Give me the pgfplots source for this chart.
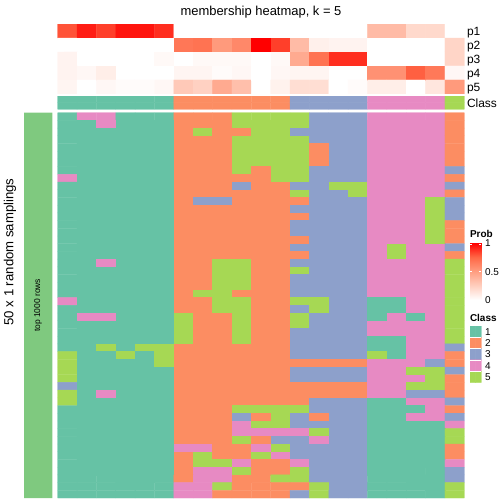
\documentclass[border=0pt]{standalone}
\usepackage{pgfplots}
\pgfplotsset{compat=1.18}
\usepackage{fontspec}
\setmainfont{Liberation Sans}
\definecolor{accentgreen}{RGB}{127,201,127}
\pgfplotsset{
  colormap={set2}{rgb255=(102,194,165) rgb255=(252,141,98) rgb255=(141,160,203) rgb255=(231,138,195) rgb255=(166,216,84)},
  colormap={prob}{rgb255=(255,255,255) rgb255=(255,207,191) rgb255=(255,158,129) rgb255=(255,104,70) rgb255=(255,0,0)},
  hm/.style={scale only axis, hide axis, anchor=north west, enlargelimits=false},
  hmtiles/.style={matrix plot*, shader=faceted, faceted color=mapped color, line width=0.35pt, point meta=explicit},
}
\begin{document}
\begin{tikzpicture}[every node/.style={inner sep=0pt, outer sep=0pt}]
\useasboundingbox (0,0) rectangle (504bp,-504bp);

% title
\node[anchor=base] at (261bp,-15.5bp) {\fontsize{13}{15}\selectfont membership heatmap, k = 5};

% top annotation p1..p5
\begin{axis}[hm, at={(57.7bp,-24bp)}, width=406.6bp, height=70bp,
  xmin=0.5, xmax=21.5, ymin=0.5, ymax=5.5, y dir=reverse,
  colormap name=prob, point meta min=0, point meta max=1]
\addplot[hmtiles, mesh/cols=21] table[row sep=\\, meta=c,
  x expr={mod(\coordindex,21)+1}, y expr={floor((\coordindex+0.5)/21)+1}] {
c\\
0.80\\0.93\\0.85\\0.95\\0.95\\0.89\\0\\0\\0\\0\\0\\0\\0\\0\\0\\0\\0.35\\0.35\\0.20\\0.20\\0\\
0\\0\\0\\0\\0\\0\\0.68\\0.70\\0.52\\0.60\\1.00\\0.85\\0.35\\0.08\\0.06\\0.06\\0\\0\\0\\0\\0.22\\
0.06\\0\\0\\0\\0\\0.03\\0\\0.03\\0.03\\0.03\\0\\0.03\\0.44\\0.70\\0.89\\0.89\\0\\0\\0\\0\\0.22\\
0.06\\0.04\\0.09\\0\\0\\0\\0.05\\0.05\\0.02\\0.04\\0\\0.04\\0.05\\0.05\\0\\0\\0.56\\0.56\\0.77\\0.67\\0.04\\
0.05\\0\\0.04\\0.02\\0.02\\0.04\\0.28\\0.24\\0.44\\0.33\\0\\0.07\\0.17\\0.17\\0\\0.02\\0.09\\0.09\\0\\0.13\\0.52\\
};
\end{axis}

% top annotation Class
\begin{axis}[hm, at={(57.7bp,-96bp)}, width=406.6bp, height=13.3bp,
  xmin=0.5, xmax=21.5, ymin=0.5, ymax=2.5, y dir=reverse,
  colormap name=set2, point meta min=1, point meta max=5]
\addplot[hmtiles, mesh/cols=21] table[row sep=\\, meta=c,
  x expr={mod(\coordindex,21)+1}, y expr={floor((\coordindex+0.5)/21)+1}] {
c\\
1\\1\\1\\1\\1\\1\\2\\2\\2\\2\\2\\2\\3\\3\\3\\3\\4\\4\\4\\4\\5\\
1\\1\\1\\1\\1\\1\\2\\2\\2\\2\\2\\2\\3\\3\\3\\3\\4\\4\\4\\4\\5\\
};
\end{axis}

% annotation labels
\node[anchor=base west] at (467bp,-35.4bp) {\fontsize{12}{14}\selectfont p1};
\node[anchor=base west] at (467bp,-49.4bp) {\fontsize{12}{14}\selectfont p2};
\node[anchor=base west] at (467bp,-63.4bp) {\fontsize{12}{14}\selectfont p3};
\node[anchor=base west] at (467bp,-77.4bp) {\fontsize{12}{14}\selectfont p4};
\node[anchor=base west] at (467bp,-91.4bp) {\fontsize{12}{14}\selectfont p5};
\node[anchor=base west] at (467bp,-107bp) {\fontsize{12}{14}\selectfont Class};

% main body: 50 samplings x 21 samples
\begin{axis}[hm, at={(57.7bp,-112.7bp)}, width=406.6bp, height=385.3bp,
  xmin=0.5, xmax=21.5, ymin=0.5, ymax=50.5, y dir=reverse,
  colormap name=set2, point meta min=1, point meta max=5]
\addplot[hmtiles, mesh/cols=21] table[row sep=\\, meta=c,
  x expr={mod(\coordindex,21)+1}, y expr={floor((\coordindex+0.5)/21)+1}] {
c\\
1\\4\\4\\1\\1\\1\\2\\2\\2\\5\\5\\5\\5\\3\\3\\3\\4\\4\\4\\4\\2\\
1\\1\\4\\1\\1\\1\\2\\2\\2\\5\\5\\5\\5\\3\\3\\3\\4\\4\\4\\4\\2\\
1\\1\\1\\1\\1\\1\\2\\5\\2\\2\\5\\5\\3\\3\\3\\3\\4\\4\\4\\4\\2\\
1\\1\\1\\1\\1\\1\\2\\2\\2\\5\\5\\5\\5\\3\\3\\3\\4\\4\\4\\4\\2\\
1\\1\\1\\1\\1\\1\\2\\2\\2\\5\\5\\5\\5\\2\\3\\3\\4\\4\\4\\4\\2\\
1\\1\\1\\1\\1\\1\\2\\2\\2\\5\\5\\5\\5\\2\\3\\3\\4\\4\\4\\4\\2\\
1\\1\\1\\1\\1\\1\\2\\2\\2\\5\\5\\5\\5\\2\\3\\3\\4\\4\\4\\4\\2\\
1\\1\\1\\1\\1\\1\\2\\2\\2\\5\\2\\5\\5\\3\\3\\3\\4\\4\\4\\4\\3\\
4\\1\\1\\1\\1\\1\\2\\2\\2\\2\\2\\5\\5\\3\\3\\3\\4\\4\\4\\4\\2\\
1\\1\\1\\1\\1\\1\\2\\2\\2\\3\\2\\2\\3\\3\\5\\5\\4\\4\\4\\4\\3\\
1\\1\\1\\1\\1\\1\\2\\2\\2\\2\\2\\2\\5\\3\\3\\5\\4\\4\\4\\4\\2\\
1\\1\\1\\1\\1\\1\\2\\3\\3\\2\\2\\2\\2\\3\\3\\3\\4\\4\\4\\5\\3\\
1\\1\\1\\1\\1\\1\\2\\2\\2\\2\\2\\2\\3\\3\\3\\3\\4\\4\\4\\5\\3\\
1\\1\\1\\1\\1\\1\\2\\2\\2\\2\\2\\2\\2\\3\\3\\3\\4\\4\\4\\5\\3\\
1\\1\\1\\1\\1\\1\\2\\2\\2\\2\\2\\2\\3\\3\\3\\3\\4\\4\\4\\5\\2\\
1\\1\\1\\1\\1\\1\\2\\2\\2\\2\\2\\2\\3\\3\\3\\3\\4\\4\\4\\5\\2\\
1\\1\\1\\1\\1\\1\\2\\2\\2\\2\\2\\2\\2\\3\\3\\3\\4\\4\\4\\5\\2\\
1\\1\\1\\1\\1\\1\\2\\2\\2\\2\\2\\2\\3\\3\\3\\3\\4\\5\\4\\4\\3\\
1\\1\\1\\1\\1\\1\\2\\2\\2\\2\\2\\2\\2\\3\\3\\3\\4\\5\\4\\4\\2\\
1\\1\\4\\1\\1\\1\\2\\2\\5\\5\\2\\2\\3\\3\\3\\3\\4\\4\\4\\4\\5\\
1\\1\\1\\1\\1\\1\\2\\2\\5\\5\\2\\2\\5\\3\\3\\3\\4\\4\\4\\4\\5\\
1\\1\\1\\1\\1\\1\\2\\2\\5\\5\\2\\2\\3\\3\\3\\3\\4\\4\\4\\4\\5\\
1\\1\\1\\1\\1\\1\\2\\2\\5\\5\\2\\2\\3\\3\\3\\3\\4\\4\\4\\4\\5\\
1\\1\\1\\1\\1\\1\\2\\5\\5\\2\\2\\2\\3\\3\\3\\3\\4\\4\\4\\4\\5\\
4\\1\\1\\1\\1\\1\\2\\2\\5\\5\\2\\2\\5\\5\\3\\3\\1\\1\\4\\4\\5\\
1\\1\\1\\1\\1\\1\\2\\2\\5\\5\\2\\2\\3\\5\\3\\3\\1\\1\\4\\4\\5\\
1\\4\\4\\1\\1\\1\\5\\2\\2\\5\\2\\2\\5\\3\\3\\3\\1\\4\\1\\4\\5\\
1\\1\\1\\1\\1\\1\\5\\2\\2\\5\\2\\2\\5\\3\\3\\3\\4\\4\\4\\4\\5\\
1\\1\\1\\1\\1\\1\\5\\2\\2\\5\\2\\2\\3\\3\\3\\3\\4\\4\\4\\4\\5\\
1\\1\\1\\1\\1\\1\\5\\2\\2\\5\\2\\2\\3\\3\\3\\3\\1\\1\\4\\4\\5\\
1\\1\\5\\1\\5\\5\\2\\2\\2\\2\\2\\2\\3\\3\\3\\3\\1\\1\\4\\4\\3\\
5\\1\\1\\5\\1\\5\\2\\2\\2\\2\\2\\2\\3\\3\\3\\3\\5\\1\\4\\4\\2\\
5\\1\\1\\1\\1\\5\\2\\2\\2\\2\\2\\2\\2\\2\\2\\2\\4\\4\\4\\3\\2\\
5\\1\\1\\1\\1\\1\\2\\2\\2\\2\\2\\2\\3\\3\\3\\3\\4\\4\\5\\5\\3\\
5\\1\\1\\1\\1\\1\\2\\2\\2\\2\\2\\2\\3\\3\\3\\3\\4\\4\\4\\5\\2\\
3\\1\\1\\1\\1\\1\\2\\2\\2\\2\\2\\2\\2\\2\\2\\2\\4\\4\\5\\5\\2\\
5\\1\\4\\1\\1\\1\\2\\2\\2\\2\\2\\2\\2\\2\\2\\2\\4\\4\\3\\3\\2\\
5\\1\\1\\1\\1\\1\\2\\2\\2\\2\\2\\2\\2\\3\\3\\3\\1\\1\\4\\4\\3\\
1\\1\\1\\1\\1\\1\\2\\2\\2\\5\\5\\5\\5\\3\\3\\3\\1\\1\\1\\4\\2\\
1\\1\\1\\1\\1\\1\\2\\2\\2\\3\\2\\5\\3\\2\\3\\3\\1\\1\\4\\4\\3\\
1\\1\\1\\1\\1\\1\\2\\2\\2\\4\\5\\5\\3\\3\\3\\3\\1\\1\\1\\1\\4\\
1\\1\\1\\1\\1\\1\\2\\2\\2\\4\\4\\4\\4\\5\\3\\3\\1\\1\\1\\1\\5\\
1\\1\\1\\1\\1\\1\\2\\2\\2\\5\\2\\3\\3\\4\\3\\3\\1\\1\\1\\1\\5\\
1\\1\\1\\1\\1\\1\\4\\4\\2\\2\\4\\5\\3\\3\\3\\3\\1\\1\\1\\1\\2\\
1\\1\\1\\1\\1\\1\\2\\5\\2\\2\\5\\4\\3\\3\\3\\3\\1\\1\\1\\1\\2\\
1\\1\\1\\1\\1\\1\\2\\5\\5\\4\\2\\2\\4\\3\\3\\3\\1\\1\\1\\1\\4\\
1\\1\\1\\1\\1\\1\\2\\4\\4\\5\\2\\2\\5\\3\\3\\3\\1\\1\\1\\1\\3\\
1\\1\\1\\1\\1\\1\\2\\4\\4\\2\\2\\5\\5\\3\\3\\3\\1\\1\\1\\1\\3\\
1\\1\\1\\1\\1\\1\\4\\4\\5\\2\\2\\2\\2\\5\\3\\3\\1\\1\\1\\1\\5\\
1\\1\\1\\1\\1\\1\\4\\4\\2\\2\\2\\2\\3\\5\\3\\3\\1\\1\\1\\1\\5\\
};
\end{axis}

% left annotation bar
\begin{axis}[hm, at={(24bp,-112.7bp)}, width=28.3bp, height=385.3bp,
  xmin=0, xmax=1, ymin=0, ymax=1]
\addplot[fill=accentgreen, draw=none] coordinates {(0,0) (1,0) (1,1) (0,1) (0,0)};
\node[rotate=90] at (axis cs:0.5,0.5) {\fontsize{8.5}{10}\selectfont top 1000 rows};
\end{axis}

% row title
\node[rotate=90] at (10bp,-252bp) {\fontsize{13.2}{15}\selectfont 50 x 1 random samplings};

% legend: Prob
\node[anchor=base west] at (470bp,-237.5bp) {\fontsize{10}{12}\selectfont\bfseries Prob};
\begin{axis}[hm, at={(470bp,-243bp)}, width=11.3bp, height=57bp,
  xmin=0, xmax=1, ymin=0, ymax=1,
  colormap name=prob, point meta min=0, point meta max=1]
\addplot[patch, shader=interp, point meta=explicit] table[meta=c] {
x y c
0 0 0
1 0 0
1 1 1
0 0 0
1 1 1
0 1 1
};
\draw[white, line width=0.5pt] (axis cs:0,0.5) -- (axis cs:0.22,0.5);
\draw[white, line width=0.5pt] (axis cs:0.78,0.5) -- (axis cs:1,0.5);
\draw[white, line width=0.5pt] (axis cs:0,0.985) -- (axis cs:0.22,0.985);
\draw[white, line width=0.5pt] (axis cs:0.78,0.985) -- (axis cs:1,0.985);
\end{axis}
\node[anchor=base west] at (485bp,-246.6bp) {\fontsize{10}{12}\selectfont 1};
\node[anchor=base west] at (485bp,-275.1bp) {\fontsize{10}{12}\selectfont 0.5};
\node[anchor=base west] at (485bp,-303.6bp) {\fontsize{10}{12}\selectfont 0};

% legend: Class
\node[anchor=base west] at (470bp,-321.5bp) {\fontsize{10}{12}\selectfont\bfseries Class};
\begin{axis}[hm, at={(470bp,-326bp)}, width=11.3bp, height=56.5bp,
  xmin=-0.5, xmax=1.5, ymin=0.5, ymax=5.5, y dir=reverse,
  colormap name=set2, point meta min=1, point meta max=5]
\addplot[hmtiles, mesh/cols=2] table[meta=c] {
x y c
0 1 1
1 1 1
0 2 2
1 2 2
0 3 3
1 3 3
0 4 4
1 4 4
0 5 5
1 5 5
};
\draw[white, line width=0.6pt] (axis cs:-0.5,1.5) -- (axis cs:1.5,1.5);
\draw[white, line width=0.6pt] (axis cs:-0.5,2.5) -- (axis cs:1.5,2.5);
\draw[white, line width=0.6pt] (axis cs:-0.5,3.5) -- (axis cs:1.5,3.5);
\draw[white, line width=0.6pt] (axis cs:-0.5,4.5) -- (axis cs:1.5,4.5);
\end{axis}
\node[anchor=base west] at (485bp,-335.2bp) {\fontsize{10}{12}\selectfont 1};
\node[anchor=base west] at (485bp,-346.5bp) {\fontsize{10}{12}\selectfont 2};
\node[anchor=base west] at (485bp,-357.8bp) {\fontsize{10}{12}\selectfont 3};
\node[anchor=base west] at (485bp,-369.1bp) {\fontsize{10}{12}\selectfont 4};
\node[anchor=base west] at (485bp,-380.4bp) {\fontsize{10}{12}\selectfont 5};
\end{tikzpicture}
\end{document}
